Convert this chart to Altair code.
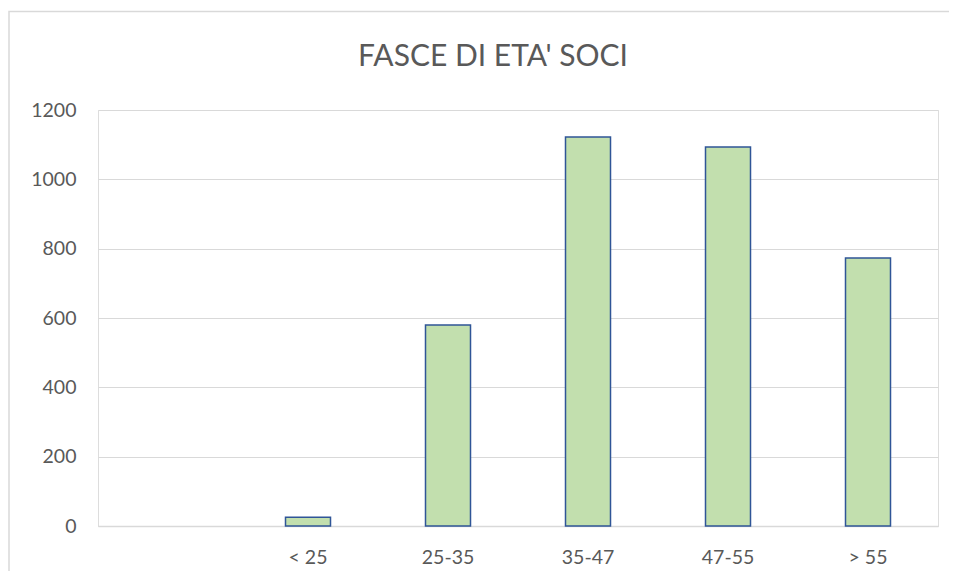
import altair as alt
import pandas as pd

categories = ["", "< 25", "25-35", "35-47", "47-55", "> 55"]
values = [None, 25, 580, 1122, 1093, 773]
title_text = "FASCE DI ETA' SOCI"

df = pd.DataFrame({"cat": categories, "val": values})

FONT = "Lato"
GREY = "#595959"

bars = alt.Chart(df).mark_bar(
    fill="#c2dfae", stroke="#2f5597", strokeWidth=1.5, size=45
).encode(
    x=alt.X("cat:N", sort=categories, title=None,
            scale=alt.Scale(paddingInner=0, paddingOuter=0),
            axis=alt.Axis(labelAngle=0, ticks=False, domainColor="#d9d9d9",
                          domainWidth=1.5, labelPadding=22, labelFontSize=19.5,
                          labelColor=GREY, labelFont=FONT, grid=False)),
    y=alt.Y("val:Q", title=None,
            scale=alt.Scale(domain=[0, 1200], nice=False),
            axis=alt.Axis(values=[0, 200, 400, 600, 800, 1000, 1200], domain=False,
                          format="d", ticks=False, labelPadding=22, labelFontSize=19.5,
                          labelColor=GREY, labelFont=FONT, gridColor="#d9d9d9",
                          gridWidth=1)),
)

border = alt.Chart(pd.DataFrame({"a": [0]})).mark_rect(
    fill=None, stroke="#d9d9d9", strokeWidth=1.5
).encode(x=alt.value(-89), x2=alt.value(875), y=alt.value(-98.5), y2=alt.value(480))

title = alt.Chart(pd.DataFrame({"t": [title_text]})).mark_text(
    font=FONT, fontSize=30, color=GREY, align="center", baseline="alphabetic"
).encode(text="t:N", x=alt.value(395), y=alt.value(-44))

chart = alt.layer(border, bars, title).properties(
    width=840, height=416,
    padding={"left": 90, "top": 102, "right": 11, "bottom": 45},
    autosize=alt.AutoSizeParams(type="none"),
).configure_view(stroke=None).configure(background="white")

chart.save("out.html", embed_options={"renderer": "svg", "actions": False})
